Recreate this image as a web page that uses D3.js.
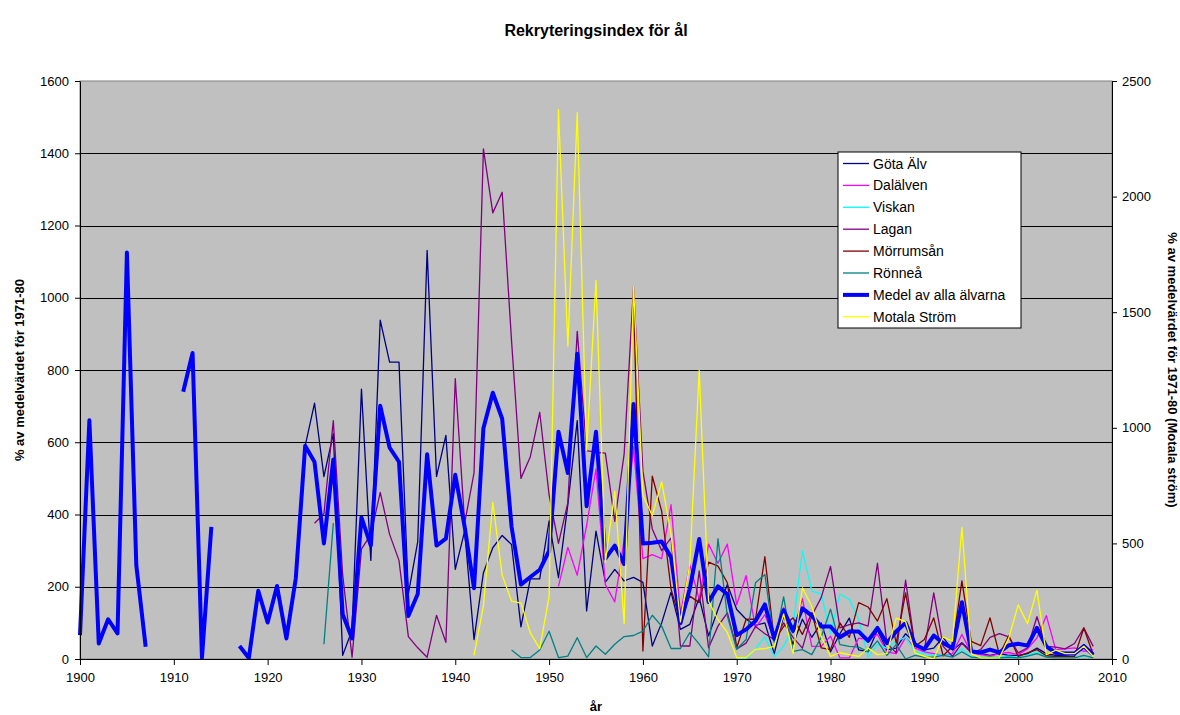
<!DOCTYPE html>
<html>
<head>
<meta charset="utf-8">
<script src="https://cdn.jsdelivr.net/npm/d3@7"></script>
<style>
  body { margin: 0; background: #fff; }
  svg text { font-family: Arial, "Liberation Sans", sans-serif; }
</style>
</head>
<body>
<div id="chart"></div>
<script>
// years on the x axis
var years = d3.range(1900, 2009);
var xTicks = d3.range(1900, 2011, 10);
var leftTicks = d3.range(0, 1601, 200);
var rightTicks = d3.range(0, 2501, 500);

// each series starts at its own year, null = no value
var gotaStart = 1924;
var gota = [590, 708, 505, 624, 10, 80, 747, 273, 938, 822, 822, 180, 325, 1131, 505, 619, 248, 354, 54, 239,
  308, 342, 317, 89, 222, 222, 382, 225, 428, 660, 133, 354, 213, 248, 216, 226, 212, 36, 100, 185,
  82, 96, 170, 64, 137, 206, 137, 110, 93, 100, 15, 120, 40, 110, 60, 100, 20, 70, 113, 25,
  20, 80, 25, 30, 70, 45, 25, 30, 60, 25, 45, 20, 15, 10, 15, 10, 10, 15, 30, 15,
  10, 10, 15, 40, 15];

var dalStart = 1951;
var dalalven = [201, 309, 232, 370, 526, 206, 158, 330, 588, 278, 289, 278, 427, 125, 262, 165, 318, 265, 318, 150,
  231, 86, 123, 54, 142, 72, 167, 35, 35, 63, 3, 3, 58, 53, 68, 20, 15, 60, 30, 20,
  15, 10, 15, 68, 17, 12, 8, 15, 18, 12, 28, 58, 120, 26, 28, 31, 21, 26];

var viskanStart = 1970;
var viskan = [0, 0, 28, 61, 7, 35, 90, 299, 188, 180, 70, 180, 165, 110, 5, 40, 30, 50, 60, 20,
  15, 10, 12, 10, 28, 5, 5, 5, 5, 8, 5, 10, 20, 8, 5, 5, 5, 8, 5];

var laganStart = 1925;
var lagan = [376, 402, 660, 232, 5, 304, 345, 461, 345, 273, 62, 31, 5, 121, 46, 776, 376, 515, 1412, 1235,
  1292, 880, 500, 560, 683, 454, 320, 433, 907, 577, 572, 570, 381, 567, 1031, 520, 360, 300, 335, 36,
  36, 244, 31, 91, 128, 28, 44, 90, 70, 54, 100, 60, 30, 120, 170, 256, 86, 95, 100, 91,
  265, 44, 17, 218, 35, 26, 183, 35, 7, 44, 17, 26, 60, 70, 61, 17, 31, 117, 35, 33,
  28, 43, 86, 35];

var morrumStart = 1959;
var morrum = [1000, 22, 506, 409, 193, 105, 174, 156, 268, 257, 211, 31, 110, 110, 283, 50, 90, 114, 68, 128,
  31, 26, 100, 60, 156, 144, 105, 167, 44, 183, 35, 54, 114, 9, 35, 216, 49, 37, 114, 12,
  65, 7, 17, 26, 9, 7, 7, 7, 86, 12];

var ronneStart = 1926;
var ronnea = [41, 376, null, null, null, null, null, null, null, null, null, null, null, null, null, null, null, null, null, null,
  25, 4, 4, 25, 77, 4, 8, 59, 4, 36, 13, 41, 62, 65, 77, 121, 91, 29, 29, 73,
  41, 6, 333, 119, 27, 54, 211, 234, 45, 172, 21, 26, 12, 60, 138, 40, 35, 33, 20, 50,
  10, 40, 0, 10, 5, 5, 10, 5, 20, 5, 3, 5, 3, 5, 3, 8, 15, 5, 3, 3,
  3, 10, 3];

var medelStart = 1900;
var medel = [66, 661, 43, 110, 71, 1125, 260, 34, null, null, null, 740, 847, 3, 366, null, null, 36, 3, 189,
  101, 202, 57, 223, 590, 545, 320, 552, 124, 57, 392, 314, 701, 585, 546, 119, 180, 567, 314, 333,
  510, 366, 196, 639, 737, 665, 366, 206, 227, 247, 299, 629, 515, 845, 423, 629, 278, 314, 263, 706,
  320, 322, 325, 282, 99, 195, 332, 158, 201, 179, 66, 82, 105, 151, 56, 135, 78, 140, 120, 90,
  90, 60, 76, 76, 50, 86, 44, 76, 100, 40, 27, 65, 44, 30, 157, 21, 18, 26, 18, 38,
  42, 37, 86, 35, 17, 15, 15, 35, 12];

// Motala Ström is read on the right axis
var motalaStart = 1942;
var motala = [16, 230, 677, 362, 250, 242, 113, 45, 270, 2376, 1353, 2363, 902, 1638, 419, 725, 153, 1611, 709, 620,
  766, 540, 161, 411, 1248, 250, 170, 115, 6, 6, 42, 45, 55, 195, 24, 308, 228, 98, 11, 27,
  19, 11, 47, 19, 23, 177, 162, 27, 11, 0, 95, 77, 569, 23, 5, 5, 5, 91, 234, 153,
  298, 19, 38, 23, 23, 55, 11];

var seriesNames = ["Göta Älv", "Dalälven", "Viskan", "Lagan", "Mörrumsån", "Rönneå", "Medel av alla älvarna", "Motala Ström"];
var seriesColors = ["#000080", "#ff00ff", "#00ffff", "#800080", "#800000", "#008080", "#0000ff", "#ffff00"];

function toPoints(start, vals) {
  return vals.map(function(v, i){ return { year: start + i, value: v }; });
}

var series = [
  { pts: toPoints(gotaStart, gota), axis: "left", w: 1.3 },
  { pts: toPoints(dalStart, dalalven), axis: "left", w: 1.3 },
  { pts: toPoints(viskanStart, viskan), axis: "left", w: 1.3 },
  { pts: toPoints(laganStart, lagan), axis: "left", w: 1.3 },
  { pts: toPoints(morrumStart, morrum), axis: "left", w: 1.3 },
  { pts: toPoints(ronneStart, ronnea), axis: "left", w: 1.3 },
  { pts: toPoints(medelStart, medel), axis: "left", w: 4 },
  { pts: toPoints(motalaStart, motala), axis: "right", w: 1.3 }
];

var width = 1180, height = 715;
var plotL = 80, plotR = 1112, plotT = 81, plotB = 659;

var svg = d3.select("#chart").append("svg")
  .attr("width", width)
  .attr("height", height);

var x = d3.scaleLinear().domain([1900, 2010]).range([plotL, plotR]);
var yL = d3.scaleLinear().domain([0, 1600]).range([plotB, plotT]);
var yR = d3.scaleLinear().domain([0, 2500]).range([plotB, plotT]);

svg.append("rect")
  .attr("x", plotL).attr("y", plotT)
  .attr("width", plotR - plotL).attr("height", plotB - plotT)
  .attr("fill", "#c0c0c0")
  .attr("stroke", "#808080");

// gridlines
svg.append("g").selectAll("line")
  .data(leftTicks.filter(function(d){ return d > 0 && d < 1600; }))
  .enter().append("line")
  .attr("x1", plotL).attr("x2", plotR)
  .attr("y1", function(d){ return Math.round(yL(d)) + 0.5; })
  .attr("y2", function(d){ return Math.round(yL(d)) + 0.5; })
  .attr("stroke", "#000")
  .attr("stroke-width", 1);

// lines
var plot = svg.append("g");
series.forEach(function(s, i){
  var yy = s.axis == "left" ? yL : yR;
  var line = d3.line()
    .defined(function(d){ return d.value != null; })
    .x(function(d){ return x(d.year); })
    .y(function(d){ return yy(d.value); });
  plot.append("path")
    .datum(s.pts)
    .attr("d", line)
    .attr("fill", "none")
    .attr("stroke", seriesColors[i])
    .attr("stroke-width", s.w)
    .attr("stroke-linejoin", "round");
});

// axes
var axisFont = "13px";
var gx = svg.append("g")
  .attr("transform", "translate(0," + plotB + ")")
  .call(d3.axisBottom(x).tickValues(xTicks).tickFormat(d3.format("d")).tickSize(6).tickSizeOuter(0));
var gl = svg.append("g")
  .attr("transform", "translate(" + plotL + ",0)")
  .call(d3.axisLeft(yL).tickValues(leftTicks).tickFormat(d3.format("d")).tickSize(5).tickSizeOuter(0));
var gr = svg.append("g")
  .attr("transform", "translate(" + plotR + ",0)")
  .call(d3.axisRight(yR).tickValues(rightTicks).tickFormat(d3.format("d")).tickSize(5).tickSizeOuter(0));

[gx, gl, gr].forEach(function(g){
  g.selectAll("text").style("font-size", axisFont).attr("fill", "#000")
    .style("font-family", "Arial, 'Liberation Sans', sans-serif");
  g.selectAll("line").attr("stroke", "#000");
  g.select(".domain").attr("stroke", "#000");
});
gx.selectAll("text").attr("dy", "1.05em");
gl.selectAll("text").attr("x", -11);
gr.selectAll("text").attr("x", 10);

// titles
svg.append("text")
  .attr("x", 596).attr("y", 36)
  .attr("text-anchor", "middle")
  .style("font-size", "16px").style("font-weight", "bold")
  .text("Rekryteringsindex för ål");

svg.append("text")
  .attr("x", 596).attr("y", 711)
  .attr("text-anchor", "middle")
  .style("font-size", "13px").style("font-weight", "bold")
  .text("år");

svg.append("text")
  .attr("transform", "translate(24," + ((plotT + plotB) / 2) + ") rotate(-90)")
  .attr("text-anchor", "middle")
  .style("font-size", "13px").style("font-weight", "bold")
  .text("% av medelvärdet för 1971-80");

svg.append("text")
  .attr("transform", "translate(1168," + ((plotT + plotB) / 2) + ") rotate(90)")
  .attr("text-anchor", "middle")
  .style("font-size", "13px").style("font-weight", "bold")
  .text("% av medelvärdet för 1971-80 (Motala ström)");

// legend
var lg = svg.append("g");
lg.append("rect")
  .attr("x", 838).attr("y", 152)
  .attr("width", 183).attr("height", 176)
  .attr("fill", "#fff")
  .attr("stroke", "#000");

var keys = lg.selectAll(".key")
  .data(seriesNames)
  .enter().append("g")
  .attr("class", "key")
  .attr("transform", function(d, i){ return "translate(0," + (163.5 + i * 21.9) + ")"; });

keys.append("line")
  .attr("x1", 843).attr("x2", 869)
  .attr("y1", 0).attr("y2", 0)
  .attr("stroke", function(d, i){ return seriesColors[i]; })
  .attr("stroke-width", function(d, i){ return series[i].w; });

keys.append("text")
  .attr("x", 873).attr("y", 5)
  .style("font-size", "14px")
  .text(function(d){ return d; });
</script>
</body>
</html>
